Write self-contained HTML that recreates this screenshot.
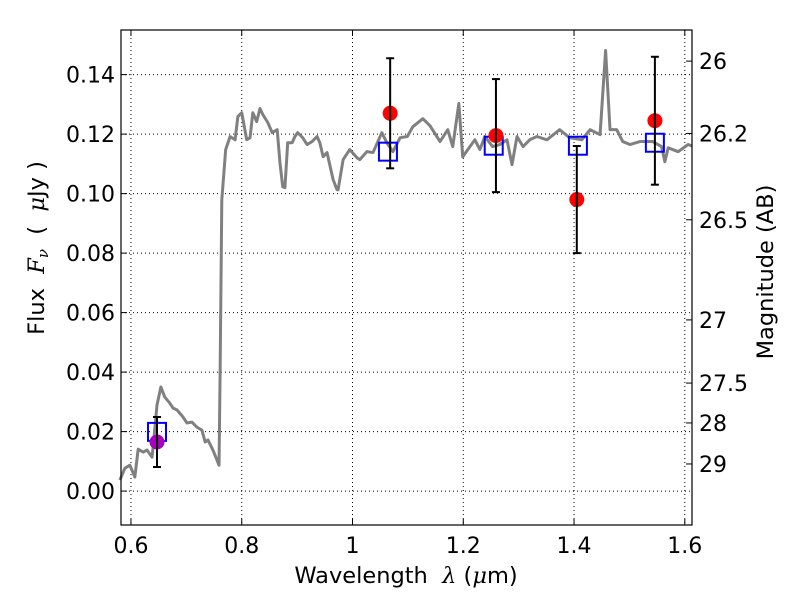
<!DOCTYPE html>
<html><head><meta charset="utf-8"><style>
body{margin:0;background:#fff}
svg text{font-family:"DejaVu Sans","Liberation Sans",sans-serif;fill:#000}
</style></head><body>
<svg id="chart" width="800" height="600" xmlns="http://www.w3.org/2000/svg"></svg>
<script>
const specWave=[0.580,0.589,0.598,0.607,0.613,0.622,0.629,0.638,0.640,0.647,0.654,0.661,0.670,0.676,0.683,0.694,0.701,0.710,0.719,0.728,0.734,0.739,0.748,0.759,0.761,0.764,0.771,0.779,0.788,0.793,0.800,0.809,0.815,0.820,0.827,0.833,0.838,0.847,0.855,0.864,0.869,0.874,0.878,0.883,0.891,0.896,0.901,0.910,0.918,0.927,0.936,0.941,0.947,0.954,0.965,0.972,0.974,0.983,0.995,1.008,1.013,1.026,1.037,1.053,1.062,1.073,1.086,1.099,1.109,1.127,1.140,1.158,1.172,1.181,1.192,1.199,1.212,1.221,1.230,1.239,1.253,1.266,1.279,1.288,1.297,1.308,1.320,1.333,1.351,1.374,1.392,1.414,1.429,1.447,1.457,1.465,1.477,1.488,1.501,1.519,1.542,1.558,1.564,1.570,1.588,1.606,1.613];
const specFlux=[0.0037,0.0077,0.0087,0.0047,0.0141,0.0131,0.0138,0.0114,0.0148,0.0289,0.0350,0.0316,0.0296,0.0279,0.0273,0.0249,0.0229,0.0232,0.0215,0.0205,0.0165,0.0172,0.0138,0.0087,0.0407,0.0979,0.1148,0.1192,0.1181,0.1259,0.1272,0.1181,0.1188,0.1272,0.1242,0.1286,0.1266,0.1239,0.1205,0.1215,0.1104,0.1023,0.1020,0.1171,0.1171,0.1192,0.1205,0.1188,0.1165,0.1175,0.1192,0.1171,0.1124,0.1138,0.1047,0.1013,0.1013,0.1114,0.1148,0.1121,0.1114,0.1141,0.1138,0.1205,0.1171,0.1141,0.1188,0.1192,0.1225,0.1252,0.1228,0.1175,0.1215,0.1158,0.1303,0.1124,0.1158,0.1181,0.1148,0.1192,0.1158,0.1165,0.1181,0.1097,0.1192,0.1158,0.1181,0.1192,0.1181,0.1215,0.1188,0.1181,0.1215,0.1198,0.1481,0.1215,0.1215,0.1175,0.1165,0.1175,0.1175,0.1158,0.1107,0.1154,0.1141,0.1165,0.1160];
const photWave=[1.068,1.259,1.405,1.546];
const photFlux=[0.127,0.1195,0.098,0.1245];
const photErr=[0.0185,0.019,0.018,0.0215];
const optWave=[0.647];
const optFlux=[0.0165];
const optErr=[0.0084];
const modelWave=[0.647,1.064,1.255,1.407,1.546];
const modelFlux=[0.0199,0.1141,0.1161,0.1161,0.1171];
const xTicks=[0.6,0.8,1.0,1.2,1.4,1.6];
const xTickLabels=["0.6","0.8","1","1.2","1.4","1.6"];
const yTicks=[0,0.02,0.04,0.06,0.08,0.10,0.12,0.14];
const yTickLabels=["0.00","0.02","0.04","0.06","0.08","0.10","0.12","0.14"];
const magTicks=[26,26.2,26.5,27,27.5,28,29];
const magTickLabels=["26","26.2","26.5","27","27.5","28","29"];

const L=121,R=692,T=30,B=525;
const xMin=0.582,xMax=1.613,yMin=-0.0114,yMax=0.155;
const X=v=>L+(v-xMin)/(xMax-xMin)*(R-L);
const Y=v=>B-(v-yMin)/(yMax-yMin)*(B-T);
const svg=document.getElementById('chart');
const NS='http://www.w3.org/2000/svg';
function mk(tag,attrs,parent){const e=document.createElementNS(NS,tag);for(const k in attrs)e.setAttribute(k,attrs[k]);(parent||svg).appendChild(e);return e;}

const grid=mk('g',{});


xTicks.forEach(t=>{mk('line',{x1:X(t),x2:X(t),y1:T,y2:B,stroke:'#000','stroke-width':1,'stroke-dasharray':'1,3'},grid);});
yTicks.forEach(t=>{mk('line',{x1:L,x2:R,y1:Y(t),y2:Y(t),stroke:'#000','stroke-width':1,'stroke-dasharray':'1,3'},grid);});

const spec=mk('polyline',{points:specWave.map((w,i)=>X(w)+','+Y(specFlux[i])).join(' '),fill:'none',stroke:'#808080','stroke-width':3,'stroke-linejoin':'round'});



modelWave.forEach((w,i)=>{const r=mk('rect',{x:X(w)-9,y:Y(modelFlux[i])-9,width:18,height:18,fill:'none',stroke:'#0000ff','stroke-width':2});

});

function errPoint(w,f,e,color,name){
  const g=mk('g',{});
  
  
  mk('circle',{cx:X(w),cy:Y(f),r:7.5,fill:color},g);
  const x=X(w);
  mk('line',{x1:x,x2:x,y1:Y(f+e),y2:Y(f-e),stroke:'#000','stroke-width':2},g);
  mk('line',{x1:x-4,x2:x+4,y1:Y(f+e),y2:Y(f+e),stroke:'#000','stroke-width':2},g);
  mk('line',{x1:x-4,x2:x+4,y1:Y(f-e),y2:Y(f-e),stroke:'#000','stroke-width':2},g);
}
photWave.forEach((w,i)=>errPoint(w,photFlux[i],photErr[i],'#ff0000','photometry-point'));
optWave.forEach((w,i)=>errPoint(w,optFlux[i],optErr[i],'#aa00bb','optical-point'));

const frame=mk('rect',{x:L,y:T,width:R-L,height:B-T,fill:'none',stroke:'#000','stroke-width':1.2});



xTicks.forEach((t,i)=>{const x=X(t);
  mk('line',{x1:x,x2:x,y1:B,y2:B-6,stroke:'#000'});mk('line',{x1:x,x2:x,y1:T,y2:T+6,stroke:'#000'});
  const tx=mk('text',{x:x,y:B+28,'text-anchor':'middle','font-size':22});tx.textContent=xTickLabels[i];
  
  });
yTicks.forEach((t,i)=>{const y=Y(t);
  mk('line',{x1:L,x2:L+6,y1:y,y2:y,stroke:'#000'});
  const tx=mk('text',{x:L-6,y:y+8,'text-anchor':'end','font-size':22});tx.textContent=yTickLabels[i];
  
  });
magTicks.forEach((m,i)=>{const y=Y(Math.pow(10,(23.9-m)/2.5));
  mk('line',{x1:R-6,x2:R,y1:y,y2:y,stroke:'#000'});
  const tx=mk('text',{x:R+7,y:y+8,'font-size':22});tx.textContent=magTickLabels[i];
  
  });
</script>
<svg width="800" height="600" style="position:absolute;left:0;top:0">
<text x="406" y="583" text-anchor="middle" font-size="22.5" font-family="DejaVu Sans,sans-serif" xml:space="preserve">Wavelength  <tspan font-style="italic" font-family="DejaVu Serif,serif">λ</tspan> (<tspan font-style="italic" font-family="DejaVu Serif,serif">μ</tspan>m)</text>
<text transform="translate(44,248) rotate(-90)" text-anchor="middle" font-size="22.5" font-family="DejaVu Sans,sans-serif" xml:space="preserve">Flux  <tspan font-style="italic" font-family="DejaVu Serif,serif">F</tspan><tspan font-style="italic" font-size="15" dy="4" font-family="DejaVu Serif,serif">ν</tspan><tspan dy="-4">  (  </tspan><tspan font-style="italic" font-family="DejaVu Serif,serif">μ</tspan>Jy )</text>
<text transform="translate(773,272) rotate(-90)" text-anchor="middle" font-size="22.5" font-family="DejaVu Sans,sans-serif">Magnitude (AB)</text>
</svg>
</body></html>
